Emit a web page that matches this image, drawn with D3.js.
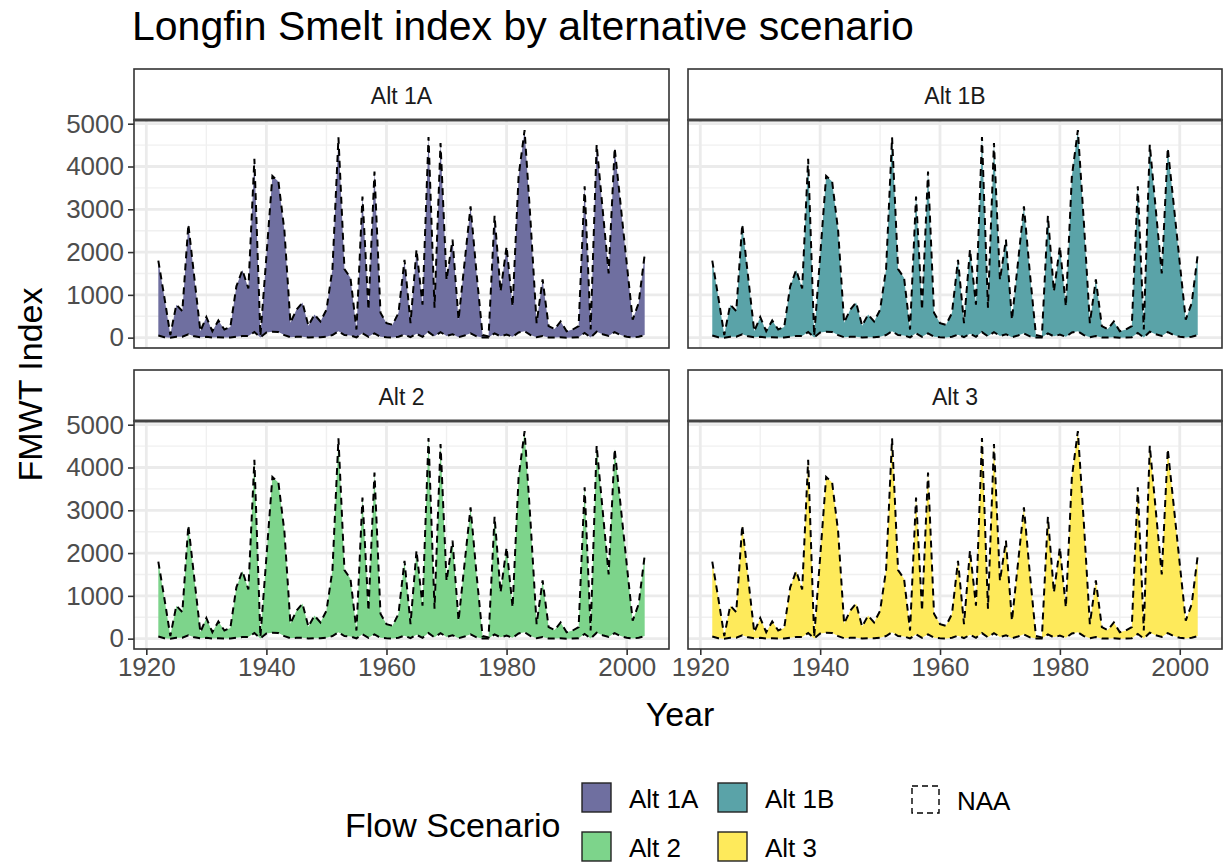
<!DOCTYPE html>
<html>
<head>
<meta charset="utf-8">
<script src="https://cdn.jsdelivr.net/npm/d3@7"></script>
<style>
  body { margin: 0; background: #fff; }
  text { font-family: "Liberation Sans", Arial, Helvetica, sans-serif; }
</style>
</head>
<body>
<div id="vis"></div>
<script>
// Declare constants
const FRAME_WIDTH = 1223;
const FRAME_HEIGHT = 863;

// data (same NAA envelope in every panel)
const YEARS = d3.range(1922, 2004);
const UPPER = [1800, 950, 60, 770, 620, 2650, 1400, 150, 480, 150,
               400, 190, 250, 1200, 1580, 1150, 4180, 40, 1900, 3780,
               3650, 2500, 350, 650, 820, 280, 540, 380, 650, 1600,
               4680, 1600, 1400, 190, 3300, 650, 3880, 580, 340, 300,
               580, 1820, 340, 2060, 770, 4690, 700, 4550, 1350, 2290,
               420, 1750, 3070, 1500, 60, 30, 2850, 1080, 2130, 730,
               3770, 4850, 2700, 340, 1360, 270, 200, 380, 150, 190,
               270, 3540, 190, 4510, 3000, 1500, 4430, 3100, 1750, 420,
               810, 1940];
const LOWER = [50, 10, 0, 20, 20, 80, 30, 10, 20, 5,
               10, 5, 5, 20, 40, 40, 130, 5, 120, 140,
               130, 60, 10, 20, 20, 5, 10, 10, 20, 60,
               150, 60, 50, 5, 100, 20, 100, 20, 10, 5,
               20, 70, 10, 90, 20, 130, 30, 130, 40, 80,
               10, 50, 100, 30, 5, 5, 100, 30, 70, 20,
               120, 150, 60, 10, 40, 5, 5, 10, 0, 5,
               10, 110, 5, 140, 80, 40, 130, 60, 20, 5,
               20, 60];

const SCENARIOS = ["Alt 1A", "Alt 1B", "Alt 2", "Alt 3"];
const FILLS = ["#6F6FA0", "#5AA3A8", "#7DD48B", "#FEEA5B"];
const Y_TICKS = [0, 1000, 2000, 3000, 4000, 5000];
const Y_MINOR = [500, 1500, 2500, 3500, 4500];
const X_TICKS = [1920, 1940, 1960, 1980, 2000];
const X_MINOR = [1930, 1950, 1970, 1990];

// panel layout
const COLS = [[134, 669], [688, 1222]];
const ROWS = [[120, 348], [421, 649]];
const STRIP_H = 51;

const DATA = YEARS.map((y, i) => ({year: y, lo: LOWER[i], hi: UPPER[i]}));

const FRAME = d3.select("#vis")
  .append("svg")
    .attr("width", FRAME_WIDTH)
    .attr("height", FRAME_HEIGHT);

// title
FRAME.append("text")
  .attr("x", 132).attr("y", 40)
  .attr("font-size", "41px").attr("fill", "#000")
  .text("Longfin Smelt index by alternative scenario");

function panel(idx) {
  const col = idx % 2, row = Math.floor(idx / 2);
  const [x0, x1] = COLS[col];
  const [y0, y1] = ROWS[row];

  const X_SCALE = d3.scaleLinear().domain([1917.95, 2007.05]).range([x0, x1]);
  const Y_SCALE = d3.scaleLinear().domain([-242, 5087]).range([y1, y0]);

  const g = FRAME.append("g");

  g.append("rect")
    .attr("x", x0).attr("y", y0)
    .attr("width", x1 - x0).attr("height", y1 - y0)
    .attr("fill", "#fff");

  // grid
  g.selectAll(".ymin").data(Y_MINOR).enter().append("line")
    .attr("x1", x0).attr("x2", x1)
    .attr("y1", d => Y_SCALE(d)).attr("y2", d => Y_SCALE(d))
    .attr("stroke", "#F0F0F0").attr("stroke-width", 1.4);
  g.selectAll(".xmin").data(X_MINOR).enter().append("line")
    .attr("y1", y0).attr("y2", y1)
    .attr("x1", d => X_SCALE(d)).attr("x2", d => X_SCALE(d))
    .attr("stroke", "#F0F0F0").attr("stroke-width", 1.4);
  g.selectAll(".ymaj").data(Y_TICKS).enter().append("line")
    .attr("x1", x0).attr("x2", x1)
    .attr("y1", d => Y_SCALE(d)).attr("y2", d => Y_SCALE(d))
    .attr("stroke", "#EBEBEB").attr("stroke-width", 2.8);
  g.selectAll(".xmaj").data(X_TICKS).enter().append("line")
    .attr("y1", y0).attr("y2", y1)
    .attr("x1", d => X_SCALE(d)).attr("x2", d => X_SCALE(d))
    .attr("stroke", "#EBEBEB").attr("stroke-width", 2.8);

  // scenario ribbon
  const area = d3.area()
    .x(d => X_SCALE(d.year))
    .y0(d => Y_SCALE(d.lo))
    .y1(d => Y_SCALE(d.hi));
  g.append("path").datum(DATA)
    .attr("d", area)
    .attr("fill", FILLS[idx]);

  // NAA outline, dashed
  const upLine = d3.line().x(d => X_SCALE(d.year)).y(d => Y_SCALE(d.hi));
  const loLine = d3.line().x(d => X_SCALE(d.year)).y(d => Y_SCALE(d.lo));
  [upLine, loLine].forEach(ln => {
    g.append("path").datum(DATA)
      .attr("d", ln)
      .attr("fill", "none")
      .attr("stroke", "#000")
      .attr("stroke-width", 2)
      .attr("stroke-dasharray", "7,5");
  });

  // panel border
  g.append("rect")
    .attr("x", x0).attr("y", y0)
    .attr("width", x1 - x0).attr("height", y1 - y0)
    .attr("fill", "none").attr("stroke", "#333").attr("stroke-width", 1.6);

  // strip
  g.append("rect")
    .attr("x", x0).attr("y", y0 - STRIP_H)
    .attr("width", x1 - x0).attr("height", STRIP_H)
    .attr("fill", "#fff").attr("stroke", "#333").attr("stroke-width", 1.6);
  g.append("line")
    .attr("x1", x0).attr("x2", x1).attr("y1", y0).attr("y2", y0)
    .attr("stroke", "#444").attr("stroke-width", 3);
  g.append("text")
    .attr("x", (x0 + x1) / 2).attr("y", y0 - STRIP_H / 2 + 1)
    .attr("text-anchor", "middle").attr("dominant-baseline", "central")
    .attr("font-size", "23px").attr("fill", "#1A1A1A")
    .text(SCENARIOS[idx]);

  // axes
  if (col === 0) {
    const ax = g.append("g")
      .attr("transform", "translate(" + x0 + ",0)")
      .call(d3.axisLeft(Y_SCALE).tickValues(Y_TICKS).tickFormat(d3.format("d"))
              .tickSize(6).tickPadding(4));
    ax.select(".domain").remove();
    ax.selectAll("line").attr("stroke", "#333").attr("stroke-width", 1.6);
    ax.selectAll("text").attr("font-size", "26px").attr("fill", "#4D4D4D");
  }
  if (row === 1) {
    const ax = g.append("g")
      .attr("transform", "translate(0," + y1 + ")")
      .call(d3.axisBottom(X_SCALE).tickValues(X_TICKS).tickFormat(d3.format("d"))
              .tickSize(6).tickPadding(3));
    ax.select(".domain").remove();
    ax.selectAll("line").attr("stroke", "#333").attr("stroke-width", 1.6);
    ax.selectAll("text").attr("font-size", "26px").attr("fill", "#4D4D4D");
  }
}

SCENARIOS.forEach((s, i) => panel(i));

// axis titles
FRAME.append("text")
  .attr("x", (COLS[0][0] + COLS[1][1]) / 2 + 2).attr("y", 726)
  .attr("text-anchor", "middle").attr("font-size", "34px")
  .text("Year");
FRAME.append("text")
  .attr("transform", "translate(42," + (ROWS[0][0] + ROWS[1][1]) / 2 + ") rotate(-90)")
  .attr("text-anchor", "middle").attr("font-size", "34px")
  .text("FMWT Index");

// legend
const LEG = FRAME.append("g");
LEG.append("text")
  .attr("x", 345).attr("y", 837)
  .attr("font-size", "34px")
  .text("Flow Scenario");

const KEY_POS = [[582, 783], [718, 783], [582, 832], [718, 832]];
SCENARIOS.forEach((s, i) => {
  LEG.append("rect")
    .attr("x", KEY_POS[i][0]).attr("y", KEY_POS[i][1])
    .attr("width", 29).attr("height", 29)
    .attr("fill", FILLS[i]).attr("stroke", "#222").attr("stroke-width", 1.4);
  LEG.append("text")
    .attr("x", KEY_POS[i][0] + 47).attr("y", KEY_POS[i][1] + 16)
    .attr("dominant-baseline", "central")
    .attr("font-size", "26px")
    .text(s);
});
LEG.append("rect")
  .attr("x", 912).attr("y", 786)
  .attr("width", 27).attr("height", 27)
  .attr("fill", "#fff").attr("stroke", "#000").attr("stroke-width", 1.4)
  .attr("stroke-dasharray", "6,4");
LEG.append("text")
  .attr("x", 957).attr("y", 801)
  .attr("dominant-baseline", "central")
  .attr("font-size", "26px")
  .text("NAA");
</script>
</body>
</html>
